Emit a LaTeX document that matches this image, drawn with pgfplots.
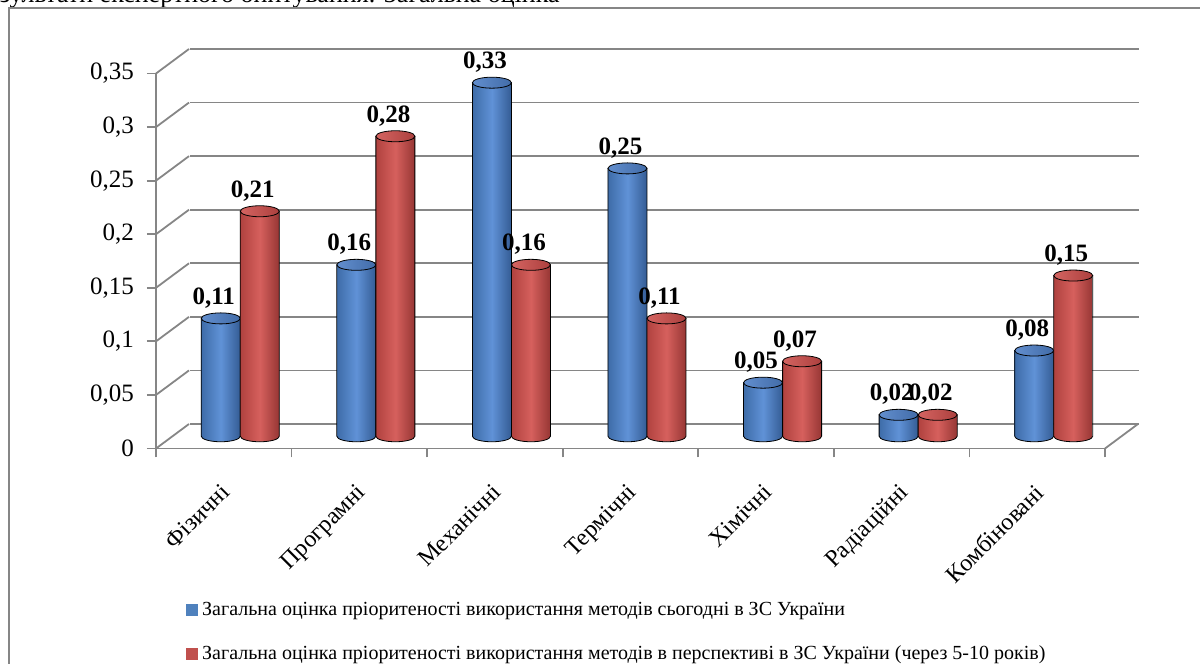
\documentclass[border=0pt]{standalone}
\usepackage{fontspec}
\setmainfont{Liberation Serif}
\usepackage{pgfplots}
\usepackage{pgfplotstable}
\pgfplotsset{compat=1.18}

\definecolor{axgray}{RGB}{134,134,134}
\definecolor{bL}{RGB}{62,108,168}
\definecolor{bM}{RGB}{96,146,215}
\definecolor{bR}{RGB}{52,92,148}
\definecolor{bcL}{RGB}{98,142,206}
\definecolor{bcR}{RGB}{66,108,168}
\definecolor{rL}{RGB}{176,66,63}
\definecolor{rM}{RGB}{214,96,93}
\definecolor{rR}{RGB}{150,54,52}
\definecolor{rcL}{RGB}{212,100,97}
\definecolor{rcR}{RGB}{172,64,62}
\definecolor{legB}{RGB}{79,129,189}
\definecolor{legR}{RGB}{192,80,77}

% cylinder drawn as one mark: value point at the top, \yv = value
\pgfdeclareplotmark{cylB}{%
  \pgfmathsetlengthmacro\hh{\yv*535.714}%
  \shade[left color=bL,right color=bR,middle color=bM] (-9.75pt,0pt) -- (-9.75pt,-\hh)
     arc[start angle=180, end angle=360, x radius=9.75pt, y radius=2.75pt] -- (9.75pt,0pt) -- cycle;
  \shade[left color=bcL,right color=bcR] (0pt,0pt) ellipse (9.75pt and 2.75pt);
}
\pgfdeclareplotmark{cylR}{%
  \pgfmathsetlengthmacro\hh{\yv*535.714}%
  \shade[left color=rL,right color=rR,middle color=rM] (-9.75pt,0pt) -- (-9.75pt,-\hh)
     arc[start angle=180, end angle=360, x radius=9.75pt, y radius=2.75pt] -- (9.75pt,0pt) -- cycle;
  \shade[left color=rcL,right color=rcR] (0pt,0pt) ellipse (9.75pt and 2.75pt);
}

\pgfplotstableread{
xa    xb    a     b
0.356 0.644 0.11  0.21
1.356 1.644 0.16  0.28
2.356 2.644 0.33  0.16
3.356 3.644 0.25  0.11
4.356 4.644 0.05  0.07
5.356 5.644 0.02  0.02
6.356 6.644 0.08  0.15
}\data

\begin{document}
\begin{tikzpicture}
\useasboundingbox (0pt,0pt) rectangle (600pt,332pt);
\begin{scope}
\clip (0pt,0pt) rectangle (600pt,332pt);
% cut caption text at the top
\node[anchor=base east, inner sep=0pt, font=\fontsize{13}{15}\selectfont] at (280pt,330.5pt) {Результати експертного опитування. Загальна оцінка};
% outer frame
\draw[axgray, line width=1pt] (4.5pt,-10pt) -- (4.5pt,328pt) -- (610pt,328pt);
\end{scope}

% back wall
\begin{axis}[
  at={(94.75pt,120pt)}, anchor=south west, scale only axis,
  width=474.5pt, height=187.5pt,
  xmin=0, xmax=7, ymin=0, ymax=0.35,
  axis line style={draw=none}, tick style={draw=none},
  xtick=\empty, ytick={0,0.05,0.1,0.15,0.2,0.25,0.3,0.35}, yticklabels={},
  ymajorgrids, grid style={axgray, line width=0.9pt},
]
\addplot[draw=none, forget plot] coordinates {(0,0)};
\end{axis}

% front plane
\begin{axis}[
  at={(78pt,107.75pt)}, anchor=south west, scale only axis,
  width=474.5pt, height=187.5pt,
  xmin=0, xmax=7, ymin=0, ymax=0.35,
  clip=false,
  axis x line*=bottom, axis y line*=left,
  axis line style={axgray, line width=0.9pt, -},
  tick style={axgray, line width=0.9pt},
  tick align=outside, major tick length=4.5pt,
  xtick={0,1,2,3,4,5,6,7}, xticklabels={},
  ytick={0,0.05,0.1,0.15,0.2,0.25,0.3,0.35},
  /pgf/number format/assume math mode=true,
  /pgf/number format/use comma,
  /pgf/number format/fixed,
  /pgf/number format/precision=2,
  yticklabel style={font=\fontsize{12.5}{14}\selectfont, xshift=-3pt},
  extra x ticks={0.5,1.5,2.5,3.5,4.5,5.5,6.5},
  extra x tick labels={Фізичні,Програмні,Механічні,Термічні,Хімічні,Радіаційні,Комбіновані},
  extra x tick style={major tick length=0pt,
    tick label style={rotate=45, anchor=north east, font=\fontsize{12}{14}\selectfont, xshift=-10pt, yshift=-7pt}},
]
\addplot[draw=none, forget plot] coordinates {(0,0)};
\pgfplotsinvokeforeach{0,0.05,0.1,0.15,0.2,0.25,0.3,0.35}{
  \draw[axgray, line width=0.9pt] (axis cs:0,#1) -- ++(16.5pt,12.25pt);
}
\draw[axgray, line width=0.9pt] (axis cs:7,0) -- ++(16.5pt,12.25pt);
\end{axis}

% bars (middle depth)
\begin{axis}[
  at={(86.25pt,113.875pt)}, anchor=south west, scale only axis,
  width=474.5pt, height=187.5pt,
  xmin=0, xmax=7, ymin=0, ymax=0.35,
  clip=false,
  axis line style={draw=none}, tick style={draw=none},
  xtick=\empty, ytick=\empty,
  /pgf/number format/assume math mode=true,
  /pgf/number format/use comma,
  /pgf/number format/fixed,
  /pgf/number format/precision=2,
  legend style={at={(0.0142,-0.43)}, anchor=north west, draw=none, fill=none,
    font=\fontsize{10}{12}\selectfont, row sep=9.5pt, inner sep=0pt,
    cells={anchor=west}},
  legend cell align=left,
]
\addplot[only marks, mark=cylB, forget plot,
  visualization depends on={rawy \as \yv},
  nodes near coords,
  every node near coord/.append style={font=\fontsize{12.5}{14}\selectfont\bfseries, black, anchor=south, yshift=1.5pt, xshift=-3.5pt}]
  table[x=xa, y=a] {\data};
\addplot[only marks, mark=cylR, forget plot,
  visualization depends on={rawy \as \yv},
  nodes near coords,
  every node near coord/.append style={font=\fontsize{12.5}{14}\selectfont\bfseries, black, anchor=south, yshift=1.5pt, xshift=-3.5pt}]
  table[x=xb, y=b] {\data};

\addlegendimage{legend image code/.code={\fill[legB] (0pt,-2.75pt) rectangle (5.5pt,2.75pt);}}
\addlegendentry{Загальна оцінка пріоритеності використання методів сьогодні в ЗС України}
\addlegendimage{legend image code/.code={\fill[legR] (0pt,-2.75pt) rectangle (5.5pt,2.75pt);}}
\addlegendentry{Загальна оцінка пріоритеності використання методів в перспективі в ЗС України (через 5-10 років)}
\end{axis}
\end{tikzpicture}
\end{document}
